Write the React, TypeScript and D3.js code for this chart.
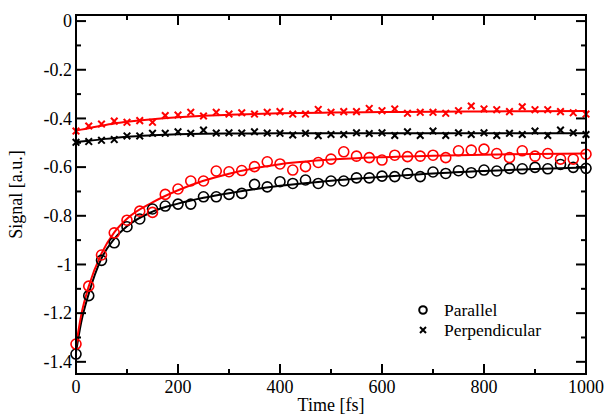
import React from "react";
import * as d3 from "d3";

const times = d3.range(0, 1001, 25);

const parallelBlack = [-1.368, -1.128, -0.983, -0.911, -0.845, -0.813, -0.772, -0.760, -0.752, -0.752, -0.722, -0.722, -0.712, -0.708, -0.671, -0.681, -0.660, -0.667, -0.653, -0.667, -0.657, -0.657, -0.644, -0.644, -0.637, -0.639, -0.626, -0.639, -0.620, -0.626, -0.615, -0.623, -0.612, -0.616, -0.605, -0.607, -0.601, -0.607, -0.589, -0.601, -0.605];
const parallelRed = [-1.327, -1.089, -0.961, -0.870, -0.818, -0.781, -0.786, -0.712, -0.690, -0.657, -0.657, -0.616, -0.619, -0.614, -0.598, -0.578, -0.587, -0.612, -0.598, -0.581, -0.567, -0.537, -0.555, -0.561, -0.571, -0.551, -0.557, -0.555, -0.551, -0.561, -0.533, -0.530, -0.526, -0.544, -0.561, -0.533, -0.555, -0.544, -0.567, -0.567, -0.547];
const perpBlack = [-0.498, -0.495, -0.490, -0.487, -0.472, -0.472, -0.461, -0.461, -0.455, -0.461, -0.448, -0.460, -0.459, -0.460, -0.455, -0.460, -0.461, -0.468, -0.461, -0.471, -0.466, -0.466, -0.459, -0.462, -0.459, -0.470, -0.455, -0.470, -0.452, -0.470, -0.459, -0.466, -0.459, -0.470, -0.461, -0.466, -0.452, -0.470, -0.448, -0.459, -0.466];
const perpRed = [-0.452, -0.431, -0.423, -0.411, -0.416, -0.409, -0.416, -0.388, -0.386, -0.375, -0.390, -0.375, -0.382, -0.377, -0.382, -0.375, -0.372, -0.382, -0.382, -0.363, -0.375, -0.372, -0.372, -0.359, -0.368, -0.361, -0.379, -0.375, -0.375, -0.379, -0.368, -0.349, -0.361, -0.364, -0.372, -0.352, -0.364, -0.364, -0.372, -0.377, -0.382];

const fitTimes = [0, 10, 25, 50, 75, 100, 150, 200, 250, 300, 400, 500, 600, 700, 800, 900, 1000];
const fitParBlack = [-1.36, -1.24, -1.12, -0.975, -0.895, -0.843, -0.783, -0.750, -0.726, -0.707, -0.677, -0.656, -0.640, -0.626, -0.616, -0.608, -0.601];
const fitParRed = [-1.335, -1.21, -1.09, -0.955, -0.868, -0.812, -0.745, -0.695, -0.656, -0.627, -0.588, -0.569, -0.559, -0.553, -0.549, -0.546, -0.544];
const fitPerpBlack = [-0.497, -0.495, -0.492, -0.486, -0.480, -0.475, -0.469, -0.465, -0.463, -0.462, -0.461, -0.461, -0.461, -0.461, -0.461, -0.461, -0.461];
const fitPerpRed = [-0.450, -0.446, -0.440, -0.430, -0.421, -0.414, -0.403, -0.395, -0.389, -0.385, -0.379, -0.376, -0.374, -0.372, -0.371, -0.370, -0.369];

const xTicks = [0, 200, 400, 600, 800, 1000];
const yTicks = [0, -0.2, -0.4, -0.6, -0.8, -1, -1.2, -1.4];
const legendLabels = ["Parallel", "Perpendicular"];

const W = 607, H = 417;
const left = 76, right = 586, top = 15, bottom = 374;
const FONT = '"Liberation Serif", "Times New Roman", Times, serif';

export default function App() {
  const x = d3.scaleLinear().domain([0, 1000]).range([left, right]);
  const y = d3.scaleLinear().domain([-1.45, 0.025]).range([bottom, top]);
  const line = (ts: number[], vs: number[]) =>
    d3.line<number>().x((_, i) => x(ts[i])).y((v) => y(v)).curve(d3.curveMonotoneX)(vs) || "";

  const xMinor = d3.range(100, 1000, 200);
  const yMinor = d3.range(-1.3, 0, 0.2);

  const circles = (vals: number[], color: string) =>
    vals.map((v, i) => (
      <circle key={i} cx={x(times[i])} cy={y(v)} r={5} fill="none" stroke={color} strokeWidth={1.6} />
    ));
  const crosses = (vals: number[], color: string, s = 3.3) =>
    vals.map((v, i) => {
      const cx = x(times[i]), cy = y(v);
      return (
        <path key={i} d={`M${cx - s},${cy - s}L${cx + s},${cy + s}M${cx - s},${cy + s}L${cx + s},${cy - s}`} stroke={color} strokeWidth={2} />
      );
    });

  const tstyle = { fontFamily: FONT };

  return (
    <svg width={W} height={H} style={{ position: "absolute", left: 0, top: 0 }}>
      <rect width={W} height={H} fill="white" />
      <path d={line(fitTimes, fitParBlack)} fill="none" stroke="black" strokeWidth={2} />
      <path d={line(fitTimes, fitParRed)} fill="none" stroke="#ff0000" strokeWidth={2} />
      <path d={line(fitTimes, fitPerpBlack)} fill="none" stroke="black" strokeWidth={2} />
      <path d={line(fitTimes, fitPerpRed)} fill="none" stroke="#ff0000" strokeWidth={2} />
      {circles(parallelBlack, "black")}
      {circles(parallelRed, "#ff0000")}
      {crosses(perpBlack, "black")}
      {crosses(perpRed, "#ff0000")}
      <rect x={left} y={top} width={right - left} height={bottom - top} fill="none" stroke="black" strokeWidth={2} />
      {xTicks.map((t) => (
        <g key={"xt" + t}>
          <line x1={x(t)} x2={x(t)} y1={bottom} y2={bottom - 10} stroke="black" strokeWidth={2} />
          <line x1={x(t)} x2={x(t)} y1={top} y2={top + 10} stroke="black" strokeWidth={2} />
          <text x={x(t)} y={bottom + 19} textAnchor="middle" fontSize={18} style={tstyle}>{t}</text>
        </g>
      ))}
      {xMinor.map((t) => (
        <g key={"xm" + t}>
          <line x1={x(t)} x2={x(t)} y1={bottom} y2={bottom - 5} stroke="black" strokeWidth={2} />
          <line x1={x(t)} x2={x(t)} y1={top} y2={top + 5} stroke="black" strokeWidth={2} />
        </g>
      ))}
      {yTicks.map((v) => (
        <g key={"yt" + v}>
          <line x1={left} x2={left + 10} y1={y(v)} y2={y(v)} stroke="black" strokeWidth={2} />
          <line x1={right} x2={right - 10} y1={y(v)} y2={y(v)} stroke="black" strokeWidth={2} />
          <text x={left - 4} y={y(v)} dy="0.35em" textAnchor="end" fontSize={18} style={tstyle}>{v === 0 ? "0" : String(v)}</text>
        </g>
      ))}
      {yMinor.map((v) => (
        <g key={"ym" + v}>
          <line x1={left} x2={left + 5} y1={y(v)} y2={y(v)} stroke="black" strokeWidth={2} />
          <line x1={right} x2={right - 5} y1={y(v)} y2={y(v)} stroke="black" strokeWidth={2} />
        </g>
      ))}
      <text x={(left + right) / 2} y={411} textAnchor="middle" fontSize={18} style={tstyle}>Time [fs]</text>
      <text transform={`translate(22,${(top + bottom) / 2}) rotate(-90)`} textAnchor="middle" fontSize={18} style={tstyle}>Signal [a.u.]</text>
      <circle cx={423} cy={310} r={3.8} fill="none" stroke="black" strokeWidth={2} />
      <text x={444} y={316} fontSize={17.5} style={tstyle}>{legendLabels[0]}</text>
      <path d="M420,327L426,333M420,333L426,327" stroke="black" strokeWidth={2} />
      <text x={444} y={336} fontSize={17.5} style={tstyle}>{legendLabels[1]}</text>
    </svg>
  );
}
